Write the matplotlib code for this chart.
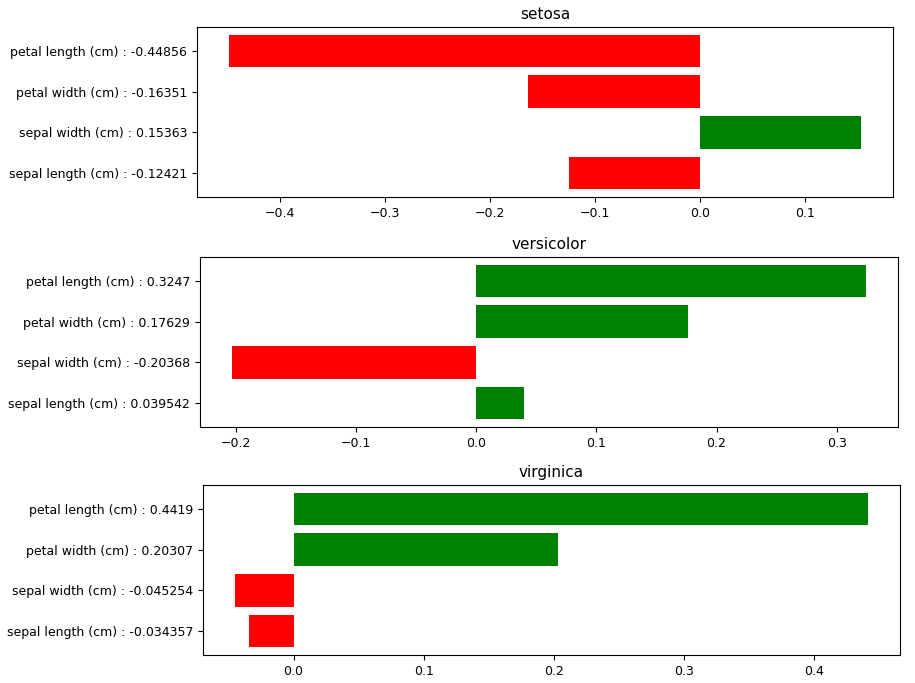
import numpy as np
import matplotlib
matplotlib.use('Agg')
import matplotlib.pyplot as plt

# feature names, bottom to top as drawn
features = ['sepal length (cm)', 'sepal width (cm)', 'petal width (cm)', 'petal length (cm)']
classes = ['setosa', 'versicolor', 'virginica']

setosa_vals = [-0.12421, 0.15363, -0.16351, -0.44856]
versicolor_vals = [0.039542, -0.20368, 0.17629, 0.3247]
virginica_vals = [-0.034357, -0.045254, 0.20307, 0.4419]
all_vals = [setosa_vals, versicolor_vals, virginica_vals]

# axes boxes in pixels: left, top, right, bottom
boxes = [(197, 27, 893, 197), (200, 257, 898, 427), (203, 485, 900, 655)]

W, H = 915, 683
fig = plt.figure(figsize=(W / 100, H / 100), dpi=100)

for name, vals, (l, t, r, b) in zip(classes, all_vals, boxes):
    ax = fig.add_axes([l / W, (H - b) / H, (r - l) / W, (b - t) / H])
    colors = ['green' if v > 0 else 'red' for v in vals]
    ypos = np.arange(len(vals))
    ax.barh(ypos, vals, color=colors, height=0.8)
    ax.set_yticks(ypos)
    ax.set_yticklabels([f + ' : ' + ('%g' % v if abs(v) >= 0.1 else '%.5g' % v) for f, v in zip(features, vals)])
    ax.set_title(name, fontsize=11)
    ax.tick_params(labelsize=9)

fig.savefig('out.png', dpi=100)
